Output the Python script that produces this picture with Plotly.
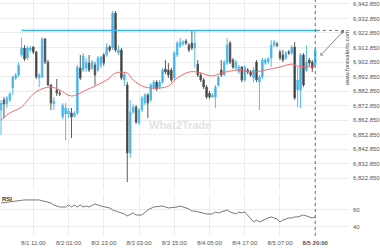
import plotly.graph_objects as go

# ---- data ----
opens = [6869.7,6876.6,6873.9,6876.6,6884.9,6891.8,6893.9,6907.7,6912.5,6905.6,
         6911.1,6913.2,6909.7,6891.8,6892.5,6918.7,6902.8,6887.0,6873.9,6883.5,
         6881.4,6864.9,6867.0,6867.0,6867.7,6865.6,6867.7,6898.7,6897.3,6898.7,
         6902.1,6898.7,6900.8,6897.3,6900.8,6907.7,6907.7,6913.2,6912.5,6936.6,
         6909.0,6911.1,6890.4,6887.0,6840.1,6868.3,6871.8,6860.8,6869.7,6874.5,
         6880.1,6876.6,6884.9,6889.0,6885.6,6889.0,6898.0,6897.3,6897.3,6891.8,
         6907.7,6913.9,6915.2,6917.3,6914.5,6915.9,6912.5,6901.4,6893.9,6890.4,
         6885.6,6881.4,6878.7,6878.7,6887.0,6897.3,6893.9,6902.1,6915.9,6904.2,
         6898.7,6895.9,6899.4,6890.4,6897.3,6895.9,6891.8,6902.8,6889.0,6892.5,
         6902.1,6902.8,6905.6,6914.5,6915.2,6909.7,6907.7,6905.6,6909.7,6909.0,
         6913.2,6883.5,6883.5,6907.7,6897.3,6904.2,6902.8,6900.8]
highs = [6876.6,6878.7,6879.4,6882.1,6893.2,6895.2,6902.8,6919.4,6914.5,6913.9,
         6913.9,6913.9,6910.4,6895.2,6920.1,6919.4,6904.2,6887.7,6878.7,6891.1,
         6883.5,6874.5,6874.5,6871.1,6871.1,6869.0,6900.8,6907.7,6909.0,6905.6,
         6907.7,6904.2,6902.8,6907.0,6907.0,6909.0,6915.9,6914.5,6938.0,6938.0,
         6914.5,6912.5,6895.9,6889.0,6876.6,6873.9,6873.2,6871.1,6879.4,6881.4,
         6881.4,6888.3,6890.4,6890.4,6890.4,6898.7,6904.2,6902.1,6898.7,6910.4,
         6917.3,6919.4,6918.0,6918.7,6915.9,6924.9,6924.9,6904.2,6895.2,6891.8,
         6887.0,6882.8,6881.4,6887.0,6893.9,6904.2,6904.2,6919.4,6917.3,6905.6,
         6904.2,6900.8,6900.1,6900.8,6898.7,6897.3,6899.4,6904.2,6893.9,6905.6,
         6905.6,6906.3,6918.0,6918.0,6916.6,6911.1,6911.1,6910.4,6911.1,6914.5,
         6916.6,6899.4,6909.0,6909.0,6914.5,6905.6,6904.2,6912.5]
lows = [6852.5,6864.2,6871.1,6875.2,6880.1,6890.4,6892.5,6906.3,6903.5,6904.2,
        6909.7,6908.3,6891.1,6885.6,6891.8,6901.4,6886.3,6869.7,6869.7,6879.4,
        6879.4,6863.5,6849.0,6864.2,6850.4,6864.2,6866.3,6890.4,6895.9,6895.9,
        6895.9,6897.3,6887.0,6895.9,6898.7,6900.1,6906.3,6909.7,6911.1,6909.7,
        6907.7,6890.4,6886.3,6820.1,6836.6,6867.0,6860.1,6859.4,6868.3,6873.2,
        6864.2,6875.2,6883.5,6882.8,6884.2,6887.7,6894.5,6891.8,6889.0,6890.4,
        6906.3,6912.5,6913.9,6914.5,6909.7,6911.1,6898.7,6892.5,6889.0,6884.2,
        6877.3,6877.3,6878.0,6871.1,6885.6,6892.5,6893.2,6900.8,6901.4,6898.0,
        6897.3,6894.5,6889.0,6889.0,6894.5,6892.5,6889.0,6889.0,6869.7,6891.1,
        6900.8,6901.4,6899.4,6913.2,6913.2,6904.2,6902.8,6904.2,6907.7,6907.7,
        6876.6,6871.8,6871.1,6885.6,6895.9,6900.1,6895.9,6899.4]
closes = [6874.5,6873.9,6878.0,6880.8,6892.5,6893.9,6900.8,6912.5,6904.9,6912.5,
          6912.5,6909.7,6892.5,6893.9,6918.7,6902.8,6887.0,6874.5,6875.9,6881.4,
          6880.8,6873.2,6871.1,6869.0,6864.9,6867.7,6899.4,6891.8,6907.0,6902.8,
          6897.3,6902.8,6893.9,6905.6,6906.3,6902.1,6913.2,6911.1,6936.6,6911.1,
          6911.1,6891.8,6894.5,6840.1,6868.3,6871.8,6861.4,6869.7,6878.0,6880.1,
          6874.5,6887.0,6889.0,6884.2,6889.0,6897.3,6895.9,6893.9,6890.4,6909.0,
          6915.9,6916.6,6916.6,6915.9,6911.1,6912.5,6915.9,6893.9,6890.4,6885.6,
          6878.7,6878.7,6880.1,6885.6,6892.5,6893.9,6902.8,6914.5,6902.8,6899.4,
          6902.8,6899.4,6890.4,6899.4,6895.9,6893.9,6897.3,6890.4,6892.5,6904.2,
          6904.2,6904.9,6914.5,6916.6,6914.5,6905.6,6904.2,6909.0,6909.0,6913.2,
          6878.0,6890.4,6907.7,6887.0,6902.8,6902.1,6898.7,6911.1]
idx = list(range(len(closes)))

ma_idx = [0,3,7,10,13,17,20,24,29,32,36,39,43,45,49,54,57,60,64,67,72,75,81,86,90,95,99,101,104,107]
ma_val = [6862.8,6867.7,6871.8,6878.7,6883.5,6885.6,6883.5,6879.4,6883.5,6886.3,
          6890.4,6895.2,6895.2,6890.4,6885.6,6884.9,6886.3,6891.8,6895.9,6895.9,
          6893.2,6895.2,6897.3,6895.9,6897.3,6899.4,6901.4,6900.1,6899.4,6900.1]

rsi_idx = [0,3,8,11,13,17,18,20,22,23,24,25,26,27,28,29,30,32,34,37,38,40,42,43,45,46,48,
           50,52,55,57,60,61,64,65,66,70,72,73,74,75,77,78,80,81,82,83,85,86,87,88,91,92,
           94,95,96,97,98,99,100,101,102,103,104,105,106,107]
rsi_val = [67.6,68.8,71.2,71.2,71.2,67.6,65.3,62.9,62.9,65.3,62.9,65.3,62.9,65.3,62.9,64.1,
           62.9,66.5,64.1,61.8,59.4,57.1,54.7,52.4,55.9,53.5,53.5,59.4,62.9,64.1,61.8,62.9,
           64.1,60.6,58.2,58.2,54.7,54.7,57.1,55.9,57.1,59.4,57.1,54.7,57.1,55.9,57.1,50.0,
           45.3,47.6,45.3,50.0,51.2,48.8,45.3,47.6,48.8,50.0,50.0,51.2,51.2,52.4,53.5,52.4,
           51.2,50.0,51.2]

resistance = 6924.6
price_ticks = [6822.85 + 10 * k for k in range(13)]
x_tick_idx = [11, 23, 35, 47, 59, 71, 83, 95, 107]
x_tick_lab = ["8/1 11:00", "8/2 01:00", "8/2 13:00", "8/3 03:00", "8/3 15:00",
              "8/4 05:00", "8/4 17:00", "8/5 07:00", "<b>8/5 20:00</b>"]
last_i = 107
arrow_from = (108.3, 6906.3)
arrow_to = (116.8, 6924.6)

BLUE = "#2ea9e3"
DARK = "#2f2f2f"
GRID = "#ececec"
TXT = "#555555"

fig = go.Figure()
fig.add_trace(go.Candlestick(
    x=idx, open=opens, high=highs, low=lows, close=closes,
    increasing=dict(fillcolor=BLUE, line=dict(color="#55bdee", width=1)),
    decreasing=dict(fillcolor=DARK, line=dict(color="#5a5a5a", width=1)),
    whiskerwidth=0, xaxis="x", yaxis="y", showlegend=False, hoverinfo="skip"))
fig.add_trace(go.Scatter(x=ma_idx, y=ma_val, mode="lines",
    line=dict(color="#f26b6b", width=1, shape="spline"), xaxis="x", yaxis="y",
    showlegend=False, hoverinfo="skip"))
fig.add_trace(go.Scatter(x=rsi_idx, y=rsi_val, mode="lines",
    line=dict(color="#555555", width=0.8), xaxis="x", yaxis="y2",
    showlegend=False, hoverinfo="skip"))

# resistance line
fig.add_shape(type="line", xref="x", yref="y", x0=7, x1=last_i + 0.6,
              y0=resistance, y1=resistance, line=dict(color="#3cb4ec", width=1.5))
fig.add_shape(type="line", xref="x", yref="y", x0=last_i + 0.6, x1=arrow_to[0],
              y0=resistance, y1=resistance, line=dict(color="#777777", width=1, dash="dot"))
# vertical dotted line at last candle
fig.add_shape(type="line", xref="x", yref="paper", x0=last_i, x1=last_i, y0=0, y1=1,
              line=dict(color="#5f7480", width=1, dash="dot"))
# arrow
fig.add_annotation(x=arrow_to[0], y=arrow_to[1], ax=arrow_from[0], ay=arrow_from[1],
                   xref="x", yref="y", axref="x", ayref="y", text="", showarrow=True,
                   arrowhead=2, arrowsize=0.8, arrowwidth=0.8, arrowcolor="#666666",
                   arrowside="end+start", startarrowhead=4, startarrowsize=0.8)

# watermarks
fig.add_annotation(x=0.5, y=0.47, xref="paper", yref="paper", text="<b>What2Trade</b>",
                   showarrow=False, font=dict(size=11, color="#e3e3e3", family="Arial"),
                   xshift=5)
fig.add_annotation(x=1, y=0.88, xref="paper", yref="paper", text="www.forexalerts.com",
                   showarrow=False, textangle=-90, xanchor="center",
                   font=dict(size=6, color="#444444", family="Arial"), xshift=-2)
fig.add_annotation(x=0, y=0.178, xref="paper", yref="paper", text="<b>RSI</b>",
                   showarrow=False, xanchor="left", yanchor="top",
                   font=dict(size=6, color="#333333", family="Arial"))

fig.update_layout(
    width=380, height=250, margin=dict(l=0, r=28, t=0, b=14),
    paper_bgcolor="white", plot_bgcolor="white",
    xaxis=dict(range=[-0.34, 118.5], tickvals=x_tick_idx, ticktext=x_tick_lab,
               showgrid=True, gridcolor=GRID, gridwidth=1, zeroline=False,
               tickfont=dict(size=6, color=TXT, family="Arial"), ticks="",
               rangeslider=dict(visible=False), anchor="y2", showline=False,
               ticklabelstandoff=2),
    yaxis=dict(domain=[0.195, 1], range=[6814.6, 6945.6], side="right",
               tickvals=price_ticks, tickformat=",.3f", showgrid=True, gridcolor=GRID,
               zeroline=False, tickfont=dict(size=6, color=TXT, family="Arial"),
               ticks="", anchor="x", ticklabelstandoff=3),
    yaxis2=dict(domain=[0, 0.178], range=[28.8, 78.2], side="right", tickvals=[40, 60],
                showgrid=True, gridcolor=GRID, zeroline=False,
                tickfont=dict(size=6, color=TXT, family="Arial"), ticks="", anchor="x",
                ticklabelstandoff=3),
)
fig.write_html("out.html")
